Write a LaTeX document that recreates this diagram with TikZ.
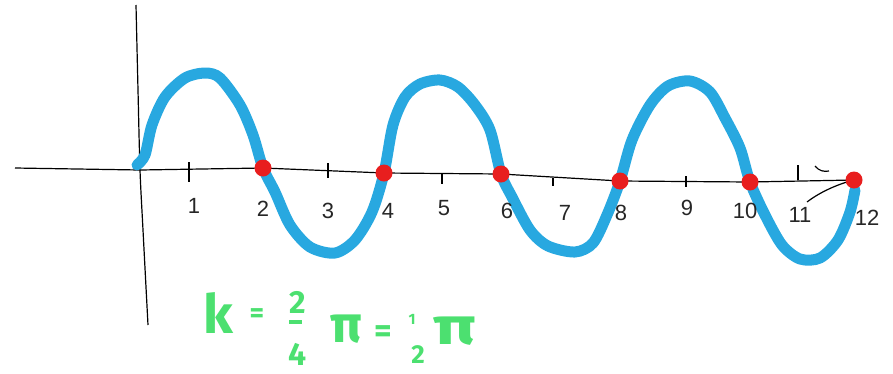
\documentclass[tikz,border=0pt]{standalone}
\usepackage{fontspec}
\setmainfont{Liberation Sans}
\newfontfamily\greenfont{Fira Sans}
\definecolor{wave}{RGB}{40,168,224}
\definecolor{dotred}{RGB}{232,30,30}
\definecolor{kgreen}{RGB}{76,224,112}
\begin{document}
\begin{tikzpicture}[x=1pt,y=-1pt,
  axisline/.style={line width=1.2pt,black},
  tickmark/.style={line width=1.2pt,black},
  ticklabel/.style={font=\fontsize{22}{22}\selectfont,inner sep=0pt,text=black!85},
  wavecurve/.style={line width=11pt,wave,line cap=round,line join=round},
  zerodot/.style={circle,fill=dotred,minimum size=17pt,inner sep=0pt},
  ktext/.style={text=kgreen,inner sep=0pt}]
\useasboundingbox (0,0) rectangle (893,373);
% zero points
\coordinate (o) at (140,170);
\coordinate (xl) at (15,168);
\coordinate (p2) at (263,168);
\coordinate (p4) at (384,173);
\coordinate (p6) at (501,174);
\coordinate (p8) at (620,181);
\coordinate (p10) at (750,182);
\coordinate (p12) at (854,180);
\coordinate (yt) at (136,5);
\coordinate (yb) at (148,325);
% axes
\draw[axisline] (xl) -- (o) -- (p2) -- (p4) -- (p6) -- (p8) -- (p10) -- (p12);
\draw[axisline] plot[smooth] coordinates {(yt) (138,90) (o) (143,230) (yb)};
% ticks
\draw[tickmark] (189,162) -- (189,182);
\draw[tickmark] (328,163) -- (328,178);
\draw[tickmark] (442,174) -- (442,184);
\draw[tickmark] (553,178) -- (553,186);
\draw[tickmark] (686,176) -- (686,187);
\draw[tickmark] (798,165) -- (798,180);
\draw[tickmark] (815,166) .. controls (819,171) and (824,172) .. (829,171);
\coordinate (arcstart) at (807,202);
\draw[tickmark] (arcstart) .. controls (820,192) and (838,184) .. (p12);
% wave
\draw[wavecurve] plot[smooth] coordinates {
 (137,165) (145,155) (152,125) (165,97) (185,78) (205,73) (220,78) (240,105) (253,135)
 (p2) (275,192) (290,225) (310,247) (335,253) (355,240) (372,212)
 (p4) (393,125) (405,97) (420,84) (440,80) (458,87) (475,105) (490,130)
 (p6) (512,197) (530,230) (548,246) (575,252) (593,243) (607,215)
 (p8) (632,140) (650,105) (668,86) (690,81) (710,92) (725,118) (740,148)
 (p10) (765,215) (782,245) (800,259) (820,258) (838,240) (850,212) (855,190)};
% dots
\foreach \p in {p2,p4,p6,p8,p10,p12} \node[zerodot] (d\p) at (\p) {};
% tick labels
\node[ticklabel] (l1) at (194,206) {1};
\node[ticklabel] (l2) at (263,209) {2};
\node[ticklabel] (l3) at (328,211) {3};
\node[ticklabel] (l4) at (388,211) {4};
\node[ticklabel] (l5) at (444,208) {5};
\node[ticklabel] (l6) at (507,211) {6};
\node[ticklabel] (l7) at (565,213) {7};
\node[ticklabel] (l8) at (621,213) {8};
\node[ticklabel] (l9) at (687,208) {9};
\node[ticklabel] (l10) at (745,211) {10};
\node[ticklabel] (l11) at (800,215) {11};
\node[ticklabel] (l12) at (867,218) {12};
% green formula
\node[ktext,font=\greenfont\bfseries\fontsize{54}{54}\selectfont] (k) at (218,313) {k};
\node[ktext,font=\greenfont\bfseries\fontsize{28}{28}\selectfont] (eq1) at (257,316) {=};
\node[ktext,font=\greenfont\bfseries\fontsize{32}{32}\selectfont] (n1) at (298,302) {2};
\node[ktext,font=\greenfont\bfseries\fontsize{32}{32}\selectfont] (d1) at (298,354) {4};
\draw[kgreen,line width=4pt] (289,322) -- (302,322);
\node[ktext,font=\greenfont\bfseries\fontsize{52}{52}\selectfont] (pi1) at (346,329) {π};
\node[ktext,font=\greenfont\bfseries\fontsize{34}{34}\selectfont] (eq2) at (383,334) {=};
\node[ktext,font=\greenfont\bfseries\fontsize{15}{15}\selectfont] (n2) at (412,319) {1};
\node[ktext,font=\greenfont\bfseries\fontsize{26}{26}\selectfont] (d2) at (418,355) {2};
\node[ktext,font=\greenfont\bfseries\fontsize{52}{52}\selectfont,xscale=1.35] (pi2) at (455,331) {π};
\end{tikzpicture}
\end{document}
